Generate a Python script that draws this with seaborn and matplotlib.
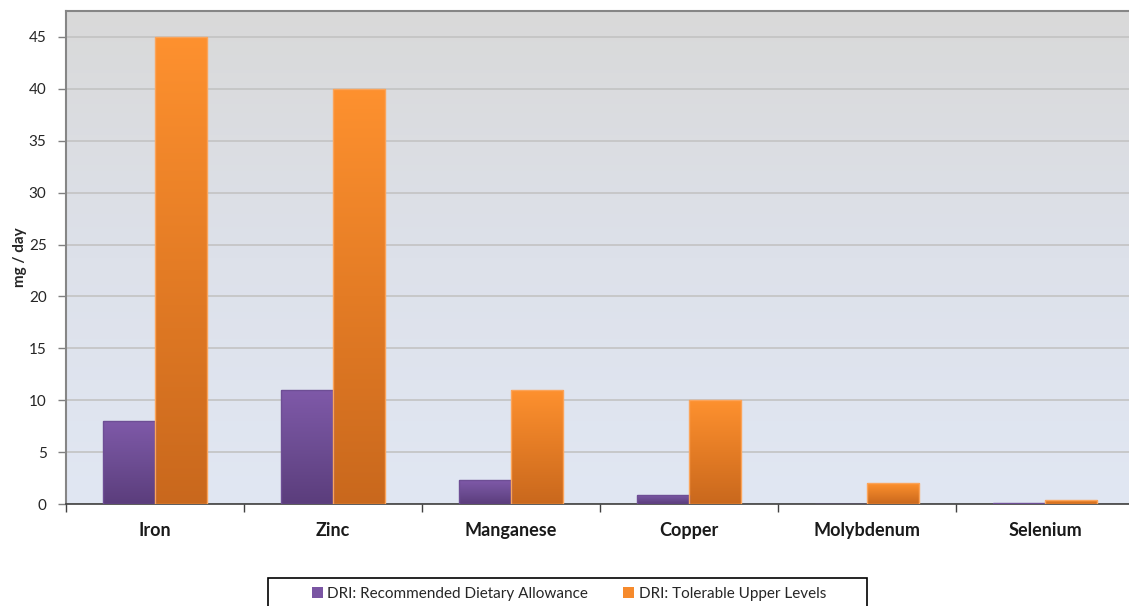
import numpy as np
import pandas as pd
import matplotlib
matplotlib.use("Agg")
import matplotlib.pyplot as plt
from matplotlib.colors import LinearSegmentedColormap
from matplotlib.patches import Patch, Rectangle
import seaborn as sns

minerals = ["Iron", "Zinc", "Manganese", "Copper", "Molybdenum", "Selenium"]
rda = [8, 11, 2.3, 0.9, 0.045, 0.055]
upper = [45, 40, 11, 10, 2, 0.4]
series = ["DRI: Recommended Dietary Allowance", "DRI: Tolerable Upper Levels"]
yticks = [0, 5, 10, 15, 20, 25, 30, 35, 40, 45]

df = pd.DataFrame({
    "mineral": minerals * 2,
    "value": rda + upper,
    "series": [series[0]] * len(minerals) + [series[1]] * len(minerals),
})

sns.set_style("white")
plt.rcParams["font.family"] = ["Lato", "DejaVu Sans"]

fig = plt.figure(figsize=(11.29, 6.06), dpi=100)
ax = fig.add_axes([66 / 1129, 1 - 504 / 606, (1134 - 66) / 1129, (504 - 11) / 606])

base = {series[0]: "#7a55a3", series[1]: "#f68a2c"}
sns.barplot(data=df, x="mineral", y="value", hue="series", order=minerals,
            hue_order=series, palette=base, width=0.585, gap=0, dodge=True,
            ax=ax, legend=False, saturation=1, zorder=3)

# background: gray at the top fading into pale blue at the bottom
bg = LinearSegmentedColormap.from_list("bg", ["#e1e7f3", "#dde1ea", "#d9d9d9"])
ax.imshow(np.linspace(0, 1, 256).reshape(-1, 1), cmap=bg, origin="lower",
          extent=[0, 1, 0, 1], transform=ax.transAxes, aspect="auto", zorder=0)

grads = {
    series[0]: LinearSegmentedColormap.from_list("p", ["#5b3d7c", "#6d4d93", "#7f59a9"]),
    series[1]: LinearSegmentedColormap.from_list("o", ["#c9681d", "#e47c25", "#fe912f"]),
}
edges = {series[0]: ("#6e4e95", 1.0), series[1]: ("#fba45a", 1.0)}
n = len(minerals)
patches = list(ax.patches)
for i, p in enumerate(patches):
    s = series[i // n]
    x0, w, h = p.get_x(), p.get_width(), p.get_height()
    p.set_facecolor("none")
    p.set_edgecolor(edges[s][0])
    p.set_linewidth(edges[s][1])
    p.set_zorder(5)
    im = ax.imshow(np.linspace(0, 1, 256).reshape(-1, 1), cmap=grads[s], origin="lower",
                   extent=[x0, x0 + w, 0, h], aspect="auto", zorder=4)
    im.set_clip_path(p)

ax.set_xlim(-0.5, n - 0.5)
ax.set_ylim(0, 47.5)
ax.set_yticks(yticks)
ax.set_yticklabels([str(t) for t in yticks], fontsize=11, color="#262626")
ax.yaxis.grid(True, color="#c3c3c3", linewidth=1.2, zorder=1)
ax.set_axisbelow(True)
ax.tick_params(axis="y", length=6, width=1, color="#7f7f7f", pad=8, left=True)

ax.set_xticks(range(n))
ax.set_xticklabels(minerals, fontsize=13, fontweight="bold", color="#1a1a1a")
ax.tick_params(axis="x", which="major", length=0, pad=13)
ax.set_xticks(np.arange(-0.5, n, 1.0), minor=True)
ax.tick_params(axis="x", which="minor", length=6, width=1, color="#404040", bottom=True)

ax.set_xlabel("")
ax.set_ylabel("mg / day", fontsize=11, fontweight="bold")
ax.yaxis.set_label_coords(-0.0365, 0.5)

for side in ["left", "top"]:
    ax.spines[side].set_color("#868686")
    ax.spines[side].set_linewidth(1.5)
ax.spines["right"].set_visible(False)
ax.spines["bottom"].set_color("#3f3f3f")
ax.spines["bottom"].set_linewidth(1.2)
ax.spines["bottom"].set_zorder(3)

# legend box below the plot, running off the bottom edge of the figure
fig.patches.append(Rectangle((268 / 1129, -0.02), (867 - 268) / 1129, 0.02 + 1 - 578 / 606,
                             transform=fig.transFigure, facecolor="white",
                             edgecolor="black", linewidth=1.2))
handles = [Patch(facecolor="#7a55a3", edgecolor="none"),
           Patch(facecolor="#f68a2c", edgecolor="none")]
leg = fig.legend(handles, series, loc="center", ncol=2,
                 bbox_to_anchor=(569 / 1129, 1 - 594 / 606),
                 frameon=False, fontsize=11,
                 handlelength=0.7, handleheight=0.7, handletextpad=0.3,
                 columnspacing=2.3, borderpad=0, borderaxespad=0)
for t in leg.get_texts():
    t.set_color("#262626")

fig.savefig("out.png", dpi=100)
